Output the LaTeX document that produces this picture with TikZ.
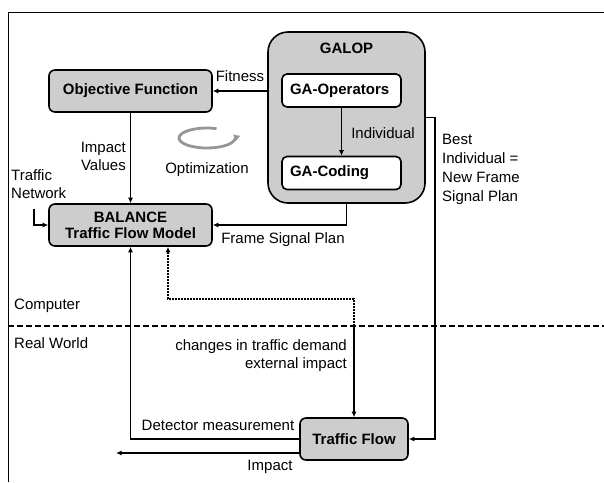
\documentclass[tikz,border=0pt]{standalone}
\usepackage{fontspec}
\setmainfont{Liberation Sans}
\usetikzlibrary{arrows.meta,calc}
\definecolor{boxfill}{RGB}{205,205,205}
\definecolor{loopgray}{RGB}{150,150,150}
\tikzset{
  x=1pt, y=-1pt,
  box/.style={draw=black, line width=1.6pt, fill=boxfill, rounded corners=6pt,
    font=\bfseries\fontsize{15}{17}\selectfont, inner sep=0pt, align=center},
  inbox/.style={draw=black, line width=1.6pt, fill=white, rounded corners=5pt,
    font=\bfseries\fontsize{15}{17}\selectfont, inner sep=0pt, align=left,
    minimum width=119pt, minimum height=33pt, text width=103pt},
  lbl/.style={font=\fontsize{15}{18}\selectfont, inner sep=0pt},
  conn/.style={line width=1.6pt, -{Latex[length=5.5pt,width=5pt]}},
  dotconn/.style={line width=1.6pt, dash pattern=on 1.6pt off 1.4pt, -{Latex[length=5.5pt,width=5pt]}},
}
\begin{document}
\begin{tikzpicture}
\useasboundingbox (0,0) rectangle (604,482);

% frame and computer / real world divider
\draw[line width=1pt] (8,482) -- (8,12) -- (604,12);
\draw[line width=1.5pt, dash pattern=on 6pt off 3pt] (8,326) -- (604,326);
\node[lbl, anchor=west] (comp) at (14,306) {Computer};
\node[lbl, anchor=west] (real) at (14,343) {Real World};

% blocks
\node[box, minimum width=163pt, minimum height=42pt] (of) at (130.5,91) {Objective Function};
\node[box, minimum width=163pt, minimum height=42pt] (bal) at (130.5,225) {BALANCE\\[-1pt]Traffic Flow Model};
\node[box, rounded corners=20pt, minimum width=157pt, minimum height=171pt] (galop) at (346.5,117.5) {};
\node[font=\bfseries\fontsize{15}{17}\selectfont, inner sep=0pt] (galoptitle) at (346.5,48) {GALOP};
\node[inbox] (gaop) at (341.5,90.5) {GA-Operators};
\node[inbox] (gacod) at (341.5,173) {GA-Coding};
\node[box, minimum width=108pt, minimum height=42pt] (tf) at (354,439) {Traffic Flow};

% connectors inside the optimisation loop
\draw[conn] (of.east -| galop.west) -- (of.east);
\node[lbl] (fit) at (240,76) {Fitness};
\draw[conn] (gaop.south) -- (gacod.north);
\node[lbl] (ind) at (383,133) {Individual};
\draw[conn] (of.south) -- (bal.north);
\node[lbl, anchor=east, align=right] (iv) at (126,156) {Impact\\Values};
\draw[conn] (galop.south) |- (bal.east);
\node[lbl] (fsp) at (283,240) {Frame Signal Plan};

% traffic network input
\node[lbl, anchor=west, align=left] (tn) at (11,184) {Traffic\\Network};
\coordinate (tnin) at (34,209);
\draw[conn] (tnin) |- (bal.west);

% optimisation loop symbol
\draw[loopgray, line width=2.8pt, -{Latex[length=6.5pt,width=8pt]}]
  (207,138) ++(-70:28 and 10) arc[start angle=-70, end angle=-382, x radius=28, y radius=10];
\node[lbl] (opt) at (207,170) {Optimization};

% best individual to the real traffic flow
\coordinate (bi) at (435,0);
\draw[conn] (galop.east) -- (galop.east -| bi) |- (tf.east);
\node[lbl, anchor=north west, align=left, font=\fontsize{15}{19}\selectfont] (bitxt) at (442,134)
  {Best\\Individual =\\New Frame\\Signal Plan};

% real world influences
\coordinate (cross) at (354,326);
\coordinate (dturn) at (168,299);
\draw[dotconn] (cross) |- (dturn) -- (dturn |- bal.south);
\draw[conn] (cross) -- (tf.north);
\node[lbl, anchor=east, align=right] (chg) at (347,356) {changes in traffic demand\\external impact};

% measurements and impact
\draw[conn] (tf.west) -| (bal.south);
\node[lbl] (det) at (218,425) {Detector measurement};
\coordinate (impend) at (116,453);
\draw[conn] (impend -| tf.west) -- (impend);
\node[lbl] (imp) at (270,467) {Impact};
\end{tikzpicture}
\end{document}
